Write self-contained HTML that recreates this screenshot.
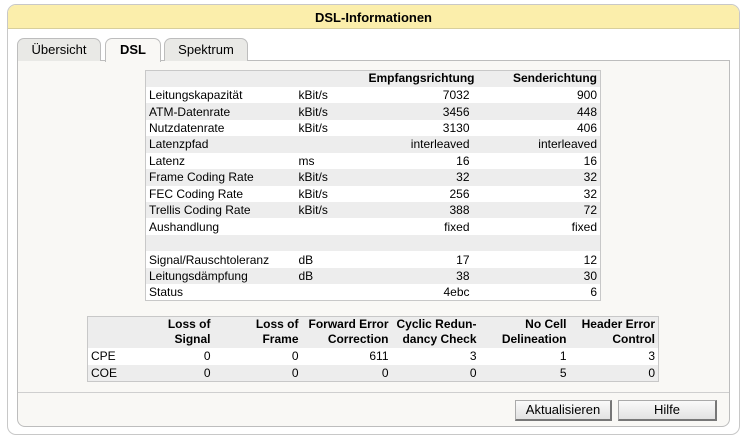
<!DOCTYPE html>
<html><head><meta charset="utf-8"><style>
*{margin:0;padding:0;box-sizing:border-box}
body{width:747px;height:447px;background:#fff;font-family:"Liberation Sans",sans-serif;font-size:12px;color:#000;position:relative;overflow:hidden}
.outer{position:absolute;left:7px;top:4px;width:733px;height:431px;border:1px solid #c8c8c8;border-radius:9px;background:#fff;overflow:hidden}
.hdr{height:24px;background:#fbeeab;border-bottom:1px solid #d8cf9c;text-align:center;font-weight:bold;font-size:13px;line-height:25px}
.tab{position:absolute;top:38px;height:23px;border:1px solid #bdbdbd;border-bottom:none;border-radius:7px 7px 0 0;background:#e9e9e6;text-align:center;line-height:22px;font-size:13px}
.panel{position:absolute;left:17px;top:60px;width:713px;height:367px;border:1px solid #bdbdbd;border-radius:0 0 8px 8px;background:#f9f8f5}
table{border-collapse:collapse;position:absolute;background:#fff;border:1px solid #c8c8c8;font-size:12px;table-layout:fixed}
td{padding:0 3px;white-space:nowrap}
.t1 td{height:16.45px;line-height:16px}
.g td{background:#ededed}
.r{text-align:right}
th{font-weight:bold;text-align:right;padding:0 3px;background:#ededed;line-height:15px;white-space:nowrap}
.btn{position:absolute;top:400px;height:21px;background:linear-gradient(#fafafa,#e2e2e2);border:1px solid #aaa;border-right:2px solid #777;border-bottom:2px solid #777;text-align:center;font-size:13px;line-height:18px}
</style></head><body>
<div class="outer"><div class="hdr">DSL-Informationen</div></div>
<div class="panel"></div>
<div class="tab" style="left:17px;width:84px">Übersicht</div>
<div class="tab" style="left:105px;width:56px;background:#f9f8f5;font-weight:bold;height:24px">DSL</div>
<div class="tab" style="left:164px;width:84px">Spektrum</div>
<div style="position:absolute;left:18px;top:392px;width:711px;border-top:1px solid #cfcfcf"></div>
<table class="t1" style="left:145px;top:70px;width:456px">
<tr class="g"><td style="width:150px"></td><td style="width:70px"></td><th>Empfangsrichtung</th><th style="width:128px">Senderichtung</th></tr>
<tr><td>Leitungskapazität</td><td>kBit/s</td><td class="r">7032</td><td class="r">900</td></tr>
<tr class="g"><td>ATM-Datenrate</td><td>kBit/s</td><td class="r">3456</td><td class="r">448</td></tr>
<tr><td>Nutzdatenrate</td><td>kBit/s</td><td class="r">3130</td><td class="r">406</td></tr>
<tr class="g"><td>Latenzpfad</td><td></td><td class="r">interleaved</td><td class="r">interleaved</td></tr>
<tr><td>Latenz</td><td>ms</td><td class="r">16</td><td class="r">16</td></tr>
<tr class="g"><td>Frame Coding Rate</td><td>kBit/s</td><td class="r">32</td><td class="r">32</td></tr>
<tr><td>FEC Coding Rate</td><td>kBit/s</td><td class="r">256</td><td class="r">32</td></tr>
<tr class="g"><td>Trellis Coding Rate</td><td>kBit/s</td><td class="r">388</td><td class="r">72</td></tr>
<tr><td>Aushandlung</td><td></td><td class="r">fixed</td><td class="r">fixed</td></tr>
<tr class="g"><td>&nbsp;</td><td></td><td></td><td></td></tr>
<tr><td>Signal/Rauschtoleranz</td><td>dB</td><td class="r">17</td><td class="r">12</td></tr>
<tr class="g"><td>Leitungsdämpfung</td><td>dB</td><td class="r">38</td><td class="r">30</td></tr>
<tr><td>Status</td><td></td><td class="r">4ebc</td><td class="r">6</td></tr>
</table>
<table style="left:87px;top:316px;width:572px">
<tr><th style="width:36px;height:31px"></th><th style="width:90px">Loss of<br>Signal</th><th style="width:88px">Loss of<br>Frame</th><th style="width:90px">Forward Error<br>Correction</th><th style="width:88px">Cyclic Redun-<br>dancy Check</th><th style="width:90px">No Cell<br>Delineation</th><th>Header Error<br>Control</th></tr>
<tr><td style="height:17px">CPE</td><td class="r">0</td><td class="r">0</td><td class="r">611</td><td class="r">3</td><td class="r">1</td><td class="r">3</td></tr>
<tr class="g"><td style="height:17px">COE</td><td class="r">0</td><td class="r">0</td><td class="r">0</td><td class="r">0</td><td class="r">5</td><td class="r">0</td></tr>
</table>
<div class="btn" style="left:515px;width:97px">Aktualisieren</div>
<div class="btn" style="left:618px;width:99px">Hilfe</div>
</body></html>
